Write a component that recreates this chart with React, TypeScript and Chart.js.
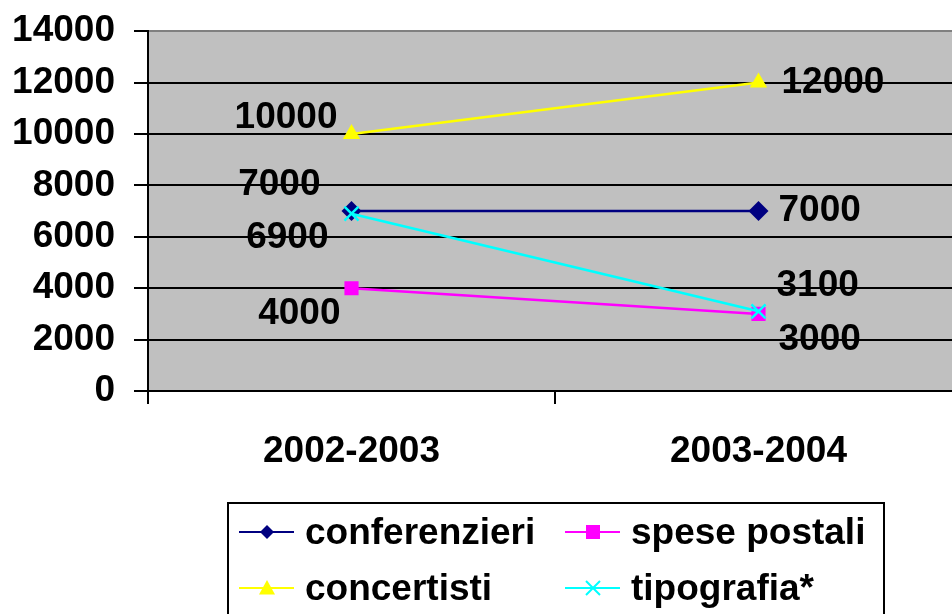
import React, { useEffect, useRef } from "react";
import { Chart, registerables } from "chart.js";

Chart.register(...registerables);

const categories = ["2002-2003", "2003-2004"];
const seriesNames = ["conferenzieri", "spese postali", "concertisti", "tipografia*"];
const conferenzieri = [7000, 7000];
const spesePostali = [4000, 3000];
const concertisti = [10000, 12000];
const tipografia = [6900, 3100];
const yTicks = [0, 2000, 4000, 6000, 8000, 10000, 12000, 14000];

const FONT = '"Liberation Sans", Arial, sans-serif';
const FS = 37;
const SHIFT = 10; // canvas is drawn shifted up by this many px

const colors = ["#000080", "#FF00FF", "#FFFF00", "#00FFFF"];
const styles = ["rectRot", "rect", "triangle", "crossRot"];
const pointRadii = [10, 10, 10, 10];
const legendRadii = [7, 7, 8, 7];
// label placement per series per point: [align, dx, dy]
const labelPlacement: [CanvasTextAlign, number, number][][] = [
  [["right", -31, -26], ["left", 20, 0]],
  [["right", -11, 26], ["left", 20, 26]],
  [["right", -14, -16], ["left", 23, 0]],
  [["right", -23, 24], ["left", 18, -26]],
];

function drawMarker(ctx: CanvasRenderingContext2D, style: string, x: number, y: number, r: number, color: string) {
  ctx.save();
  ctx.fillStyle = color;
  ctx.strokeStyle = color;
  ctx.lineWidth = 2;
  ctx.beginPath();
  if (style === "rectRot") {
    ctx.moveTo(x, y - r);
    ctx.lineTo(x + r, y);
    ctx.lineTo(x, y + r);
    ctx.lineTo(x - r, y);
    ctx.closePath();
    ctx.fill();
  } else if (style === "rect") {
    ctx.rect(x - r, y - r, 2 * r, 2 * r);
    ctx.fill();
  } else if (style === "triangle") {
    ctx.moveTo(x, y - r);
    ctx.lineTo(x + r, y + r * 0.8);
    ctx.lineTo(x - r, y + r * 0.8);
    ctx.closePath();
    ctx.fill();
  } else {
    ctx.moveTo(x - r, y - r);
    ctx.lineTo(x + r, y + r);
    ctx.moveTo(x + r, y - r);
    ctx.lineTo(x - r, y + r);
    ctx.stroke();
  }
  ctx.restore();
}

const bgPlugin = {
  id: "plotBg",
  beforeDraw(chart: any) {
    const { ctx, chartArea } = chart;
    ctx.save();
    ctx.fillStyle = "#C0C0C0";
    ctx.fillRect(chartArea.left, chartArea.top, chartArea.right - chartArea.left, chartArea.bottom - chartArea.top);
    ctx.restore();
  },
};

const labelPlugin = {
  id: "valueLabels",
  afterDatasetsDraw(chart: any) {
    const { ctx } = chart;
    ctx.save();
    ctx.font = `bold ${FS}px ${FONT}`;
    ctx.fillStyle = "#000";
    ctx.textBaseline = "middle";
    chart.data.datasets.forEach((ds: any, i: number) => {
      const meta = chart.getDatasetMeta(i);
      meta.data.forEach((pt: any, j: number) => {
        const [align, dx, dy] = labelPlacement[i][j];
        ctx.textAlign = align;
        ctx.fillText(String(ds.data[j]), pt.x + dx, pt.y + dy);
      });
    });
    ctx.restore();
  },
};

const legendPlugin = {
  id: "customLegend",
  afterDraw(chart: any) {
    const { ctx } = chart;
    ctx.save();
    ctx.strokeStyle = "#000";
    ctx.lineWidth = 2;
    ctx.strokeRect(228, 503 + SHIFT, 884 - 228, 200);
    const cols = [239, 565];
    const rows = [532 + SHIFT, 588 + SHIFT];
    ctx.font = `bold ${FS}px ${FONT}`;
    ctx.textBaseline = "middle";
    ctx.textAlign = "left";
    chart.data.datasets.forEach((ds: any, i: number) => {
      const x = cols[i % 2];
      const y = rows[Math.floor(i / 2)];
      ctx.strokeStyle = colors[i];
      ctx.lineWidth = 2;
      ctx.beginPath();
      ctx.moveTo(x, y);
      ctx.lineTo(x + 55, y);
      ctx.stroke();
      drawMarker(ctx, styles[i], x + 28, y, legendRadii[i], colors[i]);
      ctx.fillStyle = "#000";
      ctx.fillText(ds.label, x + 66, y + 2);
    });
    ctx.restore();
  },
};

export default function App() {
  const ref = useRef<HTMLCanvasElement>(null);
  useEffect(() => {
    if (!ref.current) return;
    const seriesData = [conferenzieri, spesePostali, concertisti, tipografia];
    const drawOrder = [3, 2, 1, 0];
    const chart = new Chart(ref.current, {
      type: "line",
      data: {
        labels: categories,
        datasets: seriesNames.map((name, i) => ({
          label: name,
          data: seriesData[i],
          borderColor: colors[i],
          backgroundColor: colors[i],
          borderWidth: 2.5,
          pointStyle: styles[i] as any,
          pointRadius: pointRadii[i],
          pointBorderWidth: styles[i] === "crossRot" ? 2.5 : 0,
          pointBorderColor: colors[i],
          pointBackgroundColor: colors[i],
          tension: 0,
          fill: false,
          order: drawOrder[i],
        })),
      },
      options: {
        responsive: false,
        animation: false,
        devicePixelRatio: 1,
        layout: { padding: { top: 21, right: 18, left: 0, bottom: 0 } },
        plugins: {
          legend: { display: false },
          tooltip: { enabled: false },
          title: { display: false },
        },
        scales: {
          x: {
            type: "category",
            offset: true,
            afterFit: (s: any) => {
              s.height = 614 - 391;
            },
            grid: {
              offset: true,
              drawOnChartArea: false,
              drawTicks: true,
              tickLength: 13,
              color: "#000",
              tickColor: "#000",
              lineWidth: 2,
            },
            border: { display: true, color: "#000", width: 2 },
            ticks: {
              color: "#000",
              font: { family: FONT, size: FS, weight: "bold" },
              padding: 26,
              maxRotation: 0,
            },
          },
          y: {
            min: 0,
            max: 14000,
            afterFit: (s: any) => {
              s.width = 148;
            },
            afterBuildTicks: (s: any) => {
              s.ticks = yTicks.map((v) => ({ value: v }));
            },
            grid: {
              color: (c: any) => (c.tick && c.tick.value === 14000 ? "#808080" : "#000"),
              tickColor: "#000",
              lineWidth: 2,
              tickLength: 14,
              drawTicks: true,
            },
            border: { display: true, color: "#000", width: 2 },
            ticks: {
              color: "#000",
              font: { family: FONT, size: FS, weight: "bold" },
              padding: 19,
              callback: (v: any) => String(v),
            },
          },
        },
      },
      plugins: [bgPlugin, labelPlugin, legendPlugin],
    });
    return () => chart.destroy();
  }, []);
  return (
    <div style={{ position: "fixed", left: 0, top: 0, width: 952, height: 614, overflow: "hidden", background: "#fff" }}>
      <canvas ref={ref} width={980} height={614 + SHIFT} style={{ display: "block", marginTop: -SHIFT }} />
    </div>
  );
}
